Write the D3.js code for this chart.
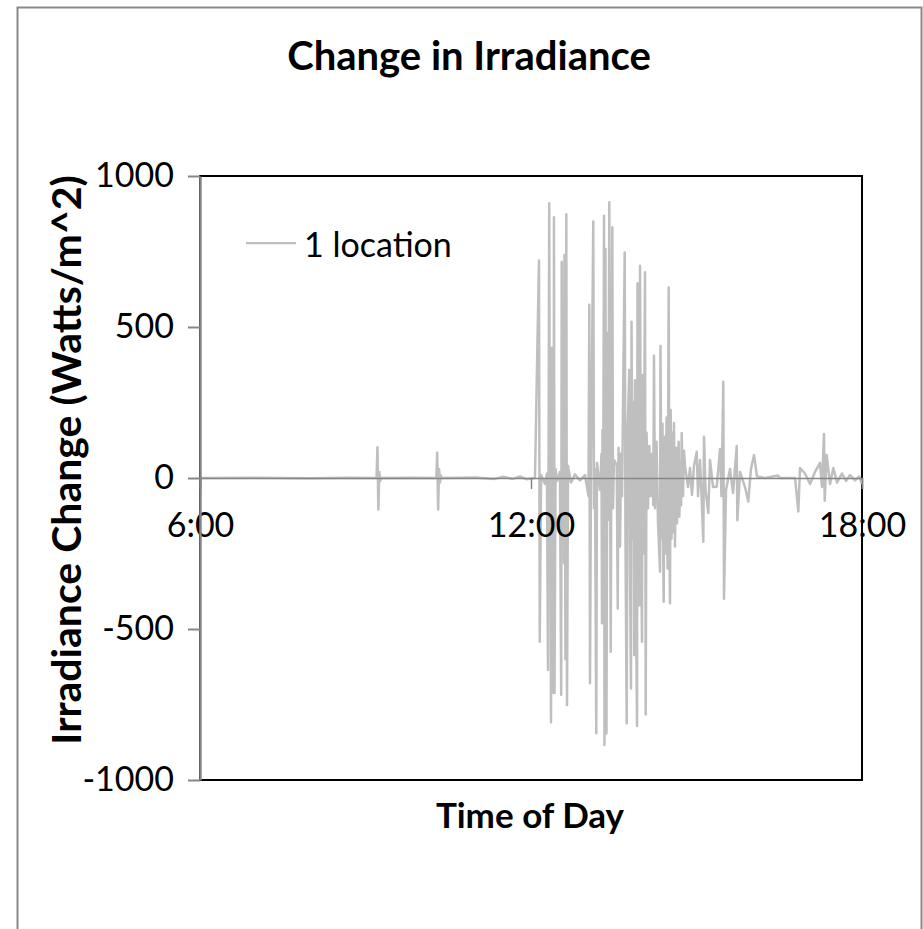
<!DOCTYPE html>
<html>
<head>
<meta charset="utf-8">
<script src="https://cdn.jsdelivr.net/npm/d3@7"></script>
<style>
  body { margin: 0; background: #fff; }
  text { font-family: Lato, "Open Sans", sans-serif; fill: #000; }
</style>
</head>
<body>
<svg width="923" height="929"></svg>
<script>
// readings of irradiance change, one location
const times = [
  "6:00:00","7:00:00","8:00:00","8:40:00","9:12:00","9:13:00","9:14:00","9:15:00","9:16:00","9:17:00",
  "9:50:00","10:17:00","10:18:00","10:19:00","10:20:00","10:21:00","10:22:00","10:23:00",
  "11:00:00","11:20:00","11:30:00","11:40:00","11:48:00","11:55:00","12:04:20",
  "12:08:40","12:09:30","12:11:00","12:15:10","12:17:20","12:18:30","12:19:50","12:20:40","12:21:10","12:21:45",
  "12:22:50","12:23:20","12:23:55","12:24:30","12:25:00","12:25:35","12:26:40","12:28:15","12:31:30","12:32:50",
  "12:33:25","12:34:15","12:35:10","12:35:55","12:36:25","12:37:30","12:38:25","12:39:10","12:40:15","12:43:30",
  "12:47:50","12:53:20","12:58:45","13:02:30","13:03:25","13:04:10","13:05:15","13:07:45","13:08:30","13:09:35",
  "13:11:00","13:11:45","13:15:00","13:16:40","13:17:15","13:17:45","13:18:20","13:19:25","13:19:55","13:20:30",
  "13:21:00","13:22:05","13:23:10","13:24:05","13:25:10","13:26:40","13:27:35","13:28:25","13:29:10","13:30:15",
  "13:33:15","13:34:20","13:35:10","13:36:50","13:37:55","13:39:00","13:41:55","13:42:45","13:44:05","13:45:00",
  "13:46:55","13:47:40","13:48:45","13:49:20","13:50:25","13:51:30","13:52:20","13:53:05","13:54:10","13:55:20",
  "13:55:50","13:56:55","13:57:50","13:58:35","13:59:40","14:00:45","14:01:15","14:02:20","14:04:00","14:04:45",
  "14:05:40","14:07:15","14:08:40","14:10:00","14:11:35","14:13:00","14:13:45","14:14:50","14:16:30","14:18:10",
  "14:20:20","14:20:50","14:21:55","14:23:00","14:23:40","14:24:20","14:25:00","14:26:15","14:27:25","14:28:30",
  "14:29:45","14:30:40","14:31:10","14:31:55","14:32:50","14:33:55","14:34:40","14:35:30","14:36:35","14:37:45",
  "14:38:50","14:39:55","14:40:35","14:41:20","14:42:35","14:43:15","14:43:55","14:45:20","14:46:20","14:47:30",
  "14:50:45","14:52:55","14:55:05","14:57:15","15:00:15",
  "15:01:40","15:03:50","15:05:25","15:07:25","15:08:10","15:09:50","15:12:50","15:14:40","15:18:00","15:22:00",
  "15:25:35","15:27:10","15:29:10","15:29:55","15:32:05","15:36:25","15:39:45","15:43:45","15:44:25","15:47:20",
  "15:52:45","15:56:20","15:59:15","16:02:35","16:05:50","16:14:30","16:28:40","16:30:50","16:47:10","16:50:45",
  "16:52:35","16:58:00","17:03:30","17:08:55","17:14:20","17:16:30","17:18:40","17:19:25","17:21:35","17:25:15",
  "17:28:50","17:32:50","17:38:15","17:42:35","17:47:00","17:52:25","17:57:00","18:00:00"
]

const values = [
  0, 1, -1, 1, 0, 102, -104, 20, -10, 0,
  1, 0, 84, -104, 30, -15, 8, 0,
  2, -3, 4, -3, 5, -4, 0,
  720, -542, 10, -20, 15, -636, 910, -250, 324, -809,
  431, -640, 380, -712, 863, -712, 30, -10, 20, -718,
  716, -100, 200, -282, 738, -600, 873, -752, 40, -15,
  12, -8, 10, -60, 574, -680, 20, 849, -100, 30,
  -845, 50, -40, 80, -481, 159, -300, 868, -884, 300,
  758, -845, 480, -139, 913, -575, 200, 830, -100, 60,
  43, -432, 100, -227, 80, -60, 747, -200, -812, 150,
  358, -300, -697, 517, -200, 250, -586, 324, -400, -821,
  645, -300, -421, 703, -200, -542, 341, -250, 681, -783,
  150, -100, 106, -60, 80, -89, 405, -100, 120, -150,
  -310, 437, -200, 180, -230, -410, 137, -250, 200, -300,
  631, -250, -415, 225, -200, 150, -180, 182, -227, 100,
  -150, 60, 120, -128, 50, -90, 149, -60, 90, 40,
  -30, 33, -56, 40, 87,
  -60, 60, -50, -211, 137, -40, -116, 60, -30, -29,
  96, -60, 319, -400, -40, 30, -50, 106, -140, 20,
  -30, -78, 30, 76, 5, 0, 8, 0, 0, -111,
  33, 15, -20, 20, 50, -30, 146, -75, 76, -20,
  33, -15, 15, -10, 10, -8, 5, -20
]

const xTickLabels = ["6:00", "12:00", "18:00"]
const yTickValues = [1000, 500, 0, -500, -1000]
const seriesName = "1 location"

let svg = d3.select("svg"),
    margin = {top: 176, right: 61, bottom: 149, left: 200},
    width = +svg.attr("width") - margin.left - margin.right,
    height = +svg.attr("height") - margin.top - margin.bottom

const parseTime = d3.timeParse("%H:%M:%S")
const parseTick = d3.timeParse("%H:%M")
const data = times.map((t, i) => ({t: parseTime(t), v: values[i]}))

// outer chart border
svg.append("rect")
    .attr("x", 17.5).attr("y", 7.5)
    .attr("width", 904).attr("height", 940)
    .attr("fill", "none")
    .attr("stroke", "#898989")
    .attr("stroke-width", 2)

svg.append("text")
    .attr("x", 469).attr("y", 70)
    .attr("text-anchor", "middle")
    .style("font-size", "40px").style("font-weight", "bold")
    .text("Change in Irradiance")

let g = svg.append("g").attr("transform", "translate(" + margin.left + "," + margin.top + ")")

let x = d3.scaleTime()
    .domain([parseTick(xTickLabels[0]), parseTick(xTickLabels[xTickLabels.length - 1])])
    .range([0, width])

let y = d3.scaleLinear()
    .domain([-1000, 1000])
    .range([height, 0])

// plot area frame
g.append("rect")
    .attr("width", width).attr("height", height)
    .attr("fill", "none")
    .attr("stroke", "#000")
    .attr("stroke-width", 2)

let line = d3.line()
    .x(d => x(d.t))
    .y(d => y(d.v))

g.append("path")
    .datum(data)
    .attr("fill", "none")
    .attr("stroke", "#bfbfbf")
    .attr("stroke-width", 2.5)
    .attr("stroke-linejoin", "round")
    .attr("d", line)

// x axis crossing at zero
let xAxis = d3.axisBottom(x)
    .tickValues(xTickLabels.map(parseTick))
    .tickFormat(d3.timeFormat("%-H:%M"))
    .tickSize(11)
    .tickPadding(24)

let xg = g.append("g")
    .attr("transform", "translate(0," + y(0) + ")")
    .call(xAxis)
xg.select(".domain").attr("stroke", "#868686").attr("stroke-width", 1.5)
xg.selectAll(".tick line").attr("stroke", "#868686").attr("stroke-width", 1.5)
xg.selectAll(".tick text")
    .attr("fill", "#000")
    .style("font-size", "34px")
    .style("font-family", "Lato, sans-serif")

let yAxis = d3.axisLeft(y)
    .tickValues(yTickValues)
    .tickFormat(d => String(d))
    .tickSize(12)
    .tickPadding(14)
    .tickSizeOuter(0)

let yg = g.append("g").call(yAxis)
yg.select(".domain").attr("stroke", "#868686").attr("stroke-width", 2.5)
yg.selectAll(".tick line").attr("stroke", "#868686").attr("stroke-width", 2)
yg.selectAll(".tick text")
    .attr("fill", "#000")
    .style("font-size", "34px")
    .style("font-family", "Lato, sans-serif")

// axis titles
svg.append("text")
    .attr("x", 530).attr("y", 828)
    .attr("text-anchor", "middle")
    .style("font-size", "35px").style("font-weight", "bold")
    .text("Time of Day")

svg.append("text")
    .attr("transform", "translate(81,460) rotate(-90)")
    .attr("text-anchor", "middle")
    .style("font-size", "41px").style("font-weight", "bold")
    .text("Irradiance Change (Watts/m^2)")

// legend
let legend = svg.append("g").attr("transform", "translate(246,243)")
legend.append("line")
    .attr("x1", 0).attr("x2", 50)
    .attr("stroke", "#bfbfbf").attr("stroke-width", 2.25)
legend.append("text")
    .attr("x", 58).attr("y", 0)
    .attr("dominant-baseline", "central")
    .style("font-size", "34px")
    .text(seriesName)
</script>
</body>
</html>
